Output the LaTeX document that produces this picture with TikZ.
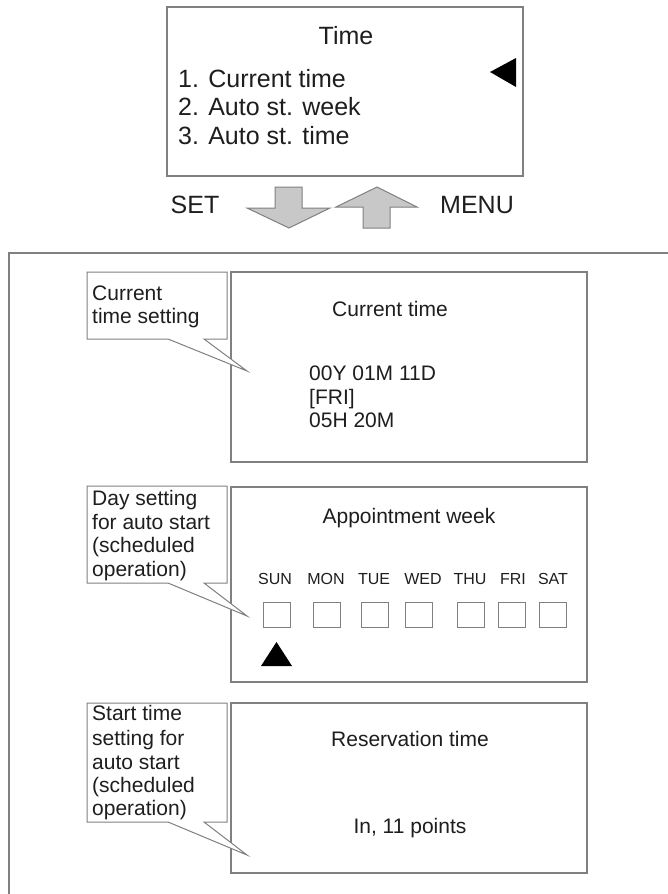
\documentclass[tikz,border=0pt]{standalone}
\usepackage{fontspec}
\setmainfont{Liberation Sans}
\definecolor{linegray}{HTML}{808080}
\definecolor{txt}{HTML}{1E1E1E}
\definecolor{arrowfill}{HTML}{C8C8C8}
\tikzset{
  big/.style={font=\fontsize{25}{30}\selectfont, text=txt, inner sep=0pt},
  mid/.style={font=\fontsize{21}{24}\selectfont, text=txt, inner sep=0pt},
  small/.style={font=\fontsize{16}{19}\selectfont, text=txt, inner sep=0pt},
  panel/.style={draw=linegray, line width=1.2pt},
  calloutline/.style={draw=linegray, line width=1pt, fill=white},
  daybox/.style={draw=linegray, line width=1pt, minimum width=27pt, minimum height=25pt, inner sep=0pt},
  bigarrow/.style={draw=linegray, line width=1pt, fill=arrowfill},
  marker/.style={fill=black, draw=none}
}
\begin{document}
\begin{tikzpicture}[x=1pt,y=-1pt]
\useasboundingbox (0,0) rectangle (668,894);
\fill[white] (0,0) rectangle (668,894);

% top menu box
\draw[panel] (167,7) rectangle (523,176);
\node[big, anchor=base] (ttime) at (346,44) {Time};
\node[big, anchor=base west] (m1) at (178,87) {1. Current time};
\node[big, anchor=base west] (m2) at (178,115.5) {2. Auto st. week};
\node[big, anchor=base west] (m3) at (178,144) {3. Auto st. time};
\fill[marker] (490,72) -- (516,58) -- (516,87) -- cycle;

% SET / MENU arrows
\node[big, anchor=base] (set) at (195,213) {SET};
\node[big, anchor=base] (menu) at (477,213) {MENU};
\draw[bigarrow] (275,187) -- (302,187) -- (302,208) -- (330,208) -- (289,228) -- (247,208) -- (275,208) -- cycle;
\draw[bigarrow] (377,187) -- (417,207) -- (390,207) -- (390,228) -- (363,228) -- (363,207) -- (336,207) -- cycle;

% outer frame
\draw[panel] (9,894) -- (9,253) -- (668,253);

% panel 1
\draw[panel] (231,272) rectangle (587,462);
\node[mid, anchor=base] (p1t) at (390,316) {Current time};
\node[mid, anchor=base west] (p1a) at (309,380.5) {00Y 01M 11D};
\node[mid, anchor=base west] (p1b) at (309,404.5) {[FRI]};
\node[mid, anchor=base west] (p1c) at (309,427.5) {05H 20M};
\draw[calloutline] (87,272) -- (227,272) -- (227,339) -- (204,339) -- (247,371) -- (168,339) -- (87,339) -- cycle;
\node[mid, anchor=base west] (c1a) at (92,300) {Current};
\node[mid, anchor=base west] (c1b) at (92,323) {time setting};

% panel 2
\draw[panel] (231,487) rectangle (587,682);
\node[mid, anchor=base] (p2t) at (409,523) {Appointment week};
\foreach \n/\cx/\bx in {SUN/275/276.5, MON/326/326.5, TUE/374/374.5, WED/423/419, THU/470/471, FRI/513/512, SAT/553/553}{
  \node[small, anchor=base] (d\n) at (\cx,584) {\n};
  \node[daybox] (b\n) at (\bx,614.5) {};
}
\fill[marker] (261,666) -- (276.5,642) -- (292,666) -- cycle;
\draw[calloutline] (87,486) -- (227,486) -- (227,583) -- (204,583) -- (247,616) -- (168,583) -- (87,583) -- cycle;
\node[mid, anchor=base west] (c2a) at (92,505.5) {Day setting};
\node[mid, anchor=base west] (c2b) at (92,529) {for auto start};
\node[mid, anchor=base west] (c2c) at (92,552.5) {(scheduled};
\node[mid, anchor=base west] (c2d) at (92,576) {operation)};

% panel 3
\draw[panel] (231,703) rectangle (587,873);
\node[mid, anchor=base] (p3t) at (410,746) {Reservation time};
\node[mid, anchor=base] (p3b) at (410,833) {In, 11 points};
\draw[calloutline] (87,703) -- (227,703) -- (227,822) -- (204,822) -- (247,855) -- (168,822) -- (87,822) -- cycle;
\node[mid, anchor=base west] (c3a) at (92,720.5) {Start time};
\node[mid, anchor=base west] (c3b) at (92,745) {setting for};
\node[mid, anchor=base west] (c3c) at (92,769) {auto start};
\node[mid, anchor=base west] (c3d) at (92,792) {(scheduled};
\node[mid, anchor=base west] (c3e) at (92,815) {operation)};
\end{tikzpicture}
\end{document}
